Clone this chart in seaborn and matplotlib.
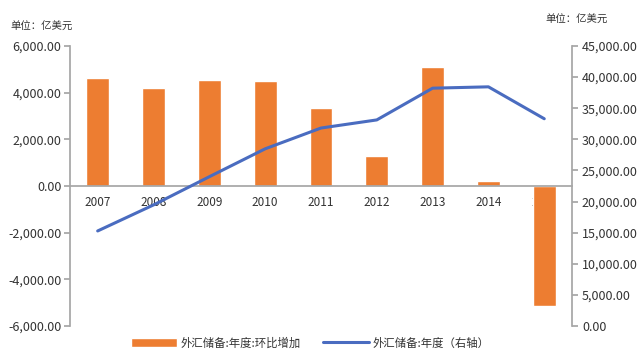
import matplotlib
matplotlib.use("Agg")
import matplotlib.pyplot as plt
import seaborn as sns
import numpy as np
import pandas as pd
from matplotlib.ticker import FuncFormatter, FixedLocator

years = ["2007", "2008", "2009", "2010", "2011", "2012", "2013", "2014", "2015"]
change = [4619, 4178, 4531, 4481, 3338, 1304, 5097, 217, -5127]
reserves = [15282, 19460, 23992, 28473, 31811, 33116, 38213, 38430, 33304]
bar_label = "外汇储备:年度:环比增加"
line_label = "外汇储备:年度（右轴）"
unit_text = "单位：亿美元"

sns.set_theme(style="white")
plt.rcParams['font.family'] = ['Noto Sans CJK SC', 'DejaVu Sans']

df = pd.DataFrame({"year": years, "change": change, "reserves": reserves,
                   "pos": np.arange(len(years))})

fig = plt.figure(figsize=(6.4, 3.56), dpi=100)
ax = fig.add_axes([0.109, 0.084, 0.785, 0.787])
bar_color = "#ED7D31"
line_color = "#4A6CC0"
gray = "#A6A6A6"

sns.barplot(data=df, x="year", y="change", color=bar_color, width=0.41,
            saturation=1, ax=ax, label=bar_label)
ax.set_ylim(-6000, 6000)
ax.set_xlim(-0.5, len(years) - 0.5)
ax.set_yticks(np.arange(-6000, 6001, 2000))
ax.yaxis.set_major_formatter(FuncFormatter(lambda v, p: f"{v:,.2f}"))
ax.set_xlabel("")
ax.set_ylabel("")
for s in ["top", "right"]:
    ax.spines[s].set_visible(False)
ax.spines["bottom"].set_position(("data", 0))
ax.spines["bottom"].set_color(gray)
ax.spines["left"].set_color(gray)
ax.tick_params(axis="x", length=0, pad=7, labelsize=8.5, colors="#333333")
ax.xaxis.set_minor_locator(FixedLocator(np.arange(-0.5, len(years), 1.0)))
ax.tick_params(axis="x", which="minor", length=4, color=gray, direction="out")
ax.tick_params(axis="y", length=4, color=gray, left=True, labelsize=9,
               colors="#333333", pad=2)

ax2 = ax.twinx()
sns.lineplot(data=df, x="pos", y="reserves", color=line_color, linewidth=2.2,
             ax=ax2, label=line_label, legend=False)
ax2.set_ylim(0, 45000)
ax2.set_yticks(np.arange(0, 45001, 5000))
ax2.yaxis.set_major_formatter(FuncFormatter(lambda v, p: f"{v:,.2f}"))
ax2.set_ylabel("")
ax2.set_xlabel("")
for s in ["top", "left", "bottom"]:
    ax2.spines[s].set_visible(False)
ax2.spines["right"].set_color(gray)
ax2.tick_params(axis="y", length=4, color=gray, right=True, labelsize=9,
                colors="#333333", pad=3)
ax.set_xlim(-0.5, len(years) - 0.5)

fig.text(0.016, 0.915, unit_text, fontsize=7.5, color="#333333")
fig.text(0.852, 0.935, unit_text, fontsize=7.5, color="#333333")

h1, l1 = ax.get_legend_handles_labels()
h2, l2 = ax2.get_legend_handles_labels()
leg = fig.legend(h1 + h2, l1 + l2, loc="center", bbox_to_anchor=(0.485, 0.037),
                 ncol=2, frameon=False, fontsize=8.2, handlelength=4.0,
                 handleheight=0.8, columnspacing=2.0, handletextpad=0.3)
for t in leg.get_texts():
    t.set_color("#333333")
if ax.get_legend() is not None:
    ax.get_legend().remove()

fig.savefig("out.png", dpi=100)
